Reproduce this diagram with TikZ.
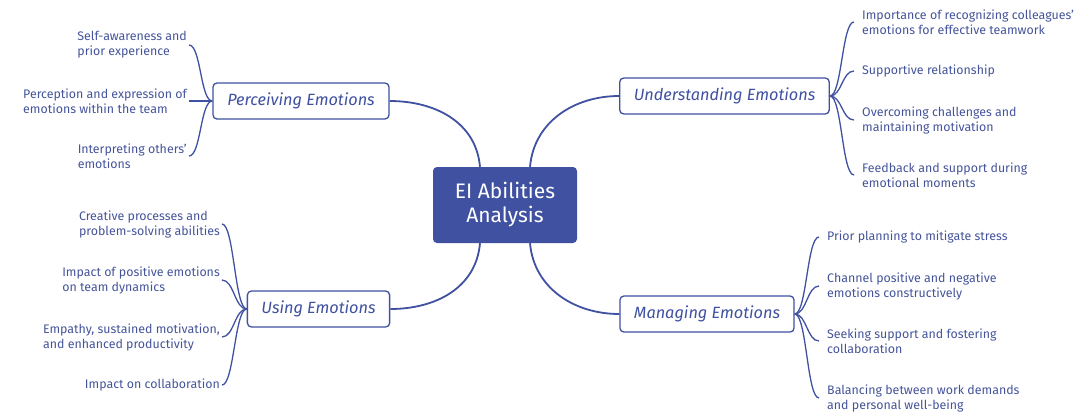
\documentclass[tikz,border=0pt]{standalone}
\usepackage{fontspec}
\setmainfont{Fira Sans}
\usepackage{tikz}

\definecolor{mapblue}{HTML}{3F51A0}
\definecolor{leafblue}{HTML}{45549A}

\begin{document}
\begin{tikzpicture}[x=1pt,y=-1pt,
  topic/.style={draw=mapblue,line width=1.3pt,rounded corners=4pt,fill=white,
    text=mapblue,font=\fontsize{16.3}{20}\selectfont\itshape,
    inner xsep=14pt,minimum height=36pt},
  leafleft/.style={anchor=east,align=left,text=leafblue,inner xsep=2pt,
    font=\fontsize{12.4}{15}\selectfont},
  leafright/.style={anchor=west,align=left,text=leafblue,inner xsep=8pt,
    font=\fontsize{12.4}{15}\selectfont},
  mainlink/.style={draw=mapblue,line width=1.8pt},
  leaflink/.style={draw=mapblue,line width=1.3pt}]
\useasboundingbox (0,0) rectangle (1086,416);

% centre
\node[fill=mapblue,rounded corners=4pt,text=white,align=center,
  minimum width=144pt,minimum height=76pt,
  font=\fontsize{21}{24}\selectfont] (ei) at (505,205) {EI Abilities\\Analysis};

% main topics
\node[topic,minimum width=176pt] (perc) at (301,101) {Perceiving Emotions};
\node[topic,minimum width=207pt] (under) at (724.5,96) {Understanding Emotions};
\node[topic,minimum width=141pt] (using) at (318.5,309) {Using Emotions};
\node[topic,minimum width=172pt] (manag) at (707,314) {Managing Emotions};

\draw[mainlink] ([xshift=-25pt]ei.north) .. controls +(-4,-45) and +(45,0) .. (perc.east);
\draw[mainlink] ([xshift=25pt]ei.north) .. controls +(4,-45) and +(-45,0) .. (under.west);
\draw[mainlink] ([xshift=-25pt]ei.south) .. controls +(-4,45) and +(45,0) .. (using.east);
\draw[mainlink] ([xshift=25pt]ei.south) .. controls +(4,45) and +(-45,0) .. (manag.west);

% perceiving
\node[leafleft] (perc1) at (189,45) {Self-awareness and\\prior experience};
\node[leafleft] (perc2) at (189,101) {Perception and expression of\\emotions within the team};
\node[leafleft] (perc3) at (189,156) {Interpreting others'\\emotions};
\foreach \i in {1,2,3}
  \draw[leaflink] (perc.west) .. controls +(-12,0) and +(12,0) .. (perc\i.east);

% understanding
\node[leafright] (under1) at (854,22) {Importance of recognizing colleagues'\\emotions for effective teamwork};
\node[leafright] (under2) at (854,71) {Supportive relationship};
\node[leafright] (under3) at (854,120) {Overcoming challenges and\\maintaining motivation};
\node[leafright] (under4) at (854,175) {Feedback and support during\\emotional moments};
\foreach \i in {1,...,4}
  \draw[leaflink] (under.east) .. controls +(12,0) and +(-12,0) .. (under\i.west);

% using
\node[leafleft] (using1) at (222,224) {Creative processes and\\problem-solving abilities};
\node[leafleft] (using2) at (222,280) {Impact of positive emotions\\on team dynamics};
\node[leafleft] (using3) at (222,337) {Empathy, sustained motivation,\\and enhanced productivity};
\node[leafleft] (using4) at (222,385) {Impact on collaboration};
\foreach \i in {1,...,4}
  \draw[leaflink] (using.west) .. controls +(-12,0) and +(12,0) .. (using\i.east);

% managing
\node[leafright] (manag1) at (819,237) {Prior planning to mitigate stress};
\node[leafright] (manag2) at (819,286) {Channel positive and negative\\emotions constructively};
\node[leafright] (manag3) at (819,341) {Seeking support and fostering\\collaboration};
\node[leafright] (manag4) at (819,398) {Balancing between work demands\\and personal well-being};
\foreach \i in {1,...,4}
  \draw[leaflink] (manag.east) .. controls +(12,0) and +(-12,0) .. (manag\i.west);
\end{tikzpicture}
\end{document}
